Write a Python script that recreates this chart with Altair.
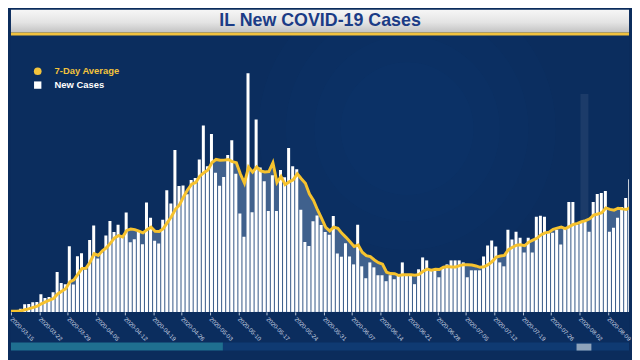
import altair as alt
import pandas as pd

# ---------------- data ----------------
first_day = "2020-03-08"
new_cases = [
    4, 4, 8, 6, 7, 14, 18,                                                    # Mar 8-14
    29, 12, 55, 128, 134, 163, 168, 296, 236, 250, 330, 673, 488, 465, 1105, 461, 937,  # Mar 15-31
    986, 715, 1209, 1453, 899, 1006, 1287, 1529, 1344, 1465,
    1293, 1672, 1173, 1222, 1346, 1140, 1842, 1585, 1197, 1151,
    1551, 2049, 1826, 2724, 2119, 2126, 1980, 2219, 2253, 2563,                 # Apr
    3137, 2450, 2994, 2341, 2122, 2270, 2641, 2887, 2325, 1656,
    1266, 4014, 1677, 3239, 2432, 2200, 1700, 2300, 1700, 2388,
    2268, 2758, 2450, 2400, 1717, 1178, 1111, 1527, 1622, 1462, 1343,          # May
    1300, 1614, 982, 929, 1156, 933, 800, 1467, 767, 567,
    833, 750, 617, 617, 517, 617, 550, 617, 833, 617,
    617, 467, 717, 917, 867, 717, 717, 583, 750, 800,                          # Jun
    867, 867, 867, 833, 583, 700, 700, 700, 933, 1117,
    1200, 1100, 833, 767, 1383, 1217, 1350, 1250, 1000, 1250,
    1000, 1600, 1617, 1600, 1333, 1333, 1383, 1133, 1417, 1850, 1850,          # Jul
    1467, 1517, 1517, 1350, 1850, 1983, 2000, 2033, 1350, 1417, 1583, 1767, 1917, 2233, 1717,  # Aug 1-15
]
tick_start = "2020-03-15"
tick_end = "2020-08-16"
title_text = "IL New COVID-19 Cases"
legend_labels = ["7-Day Average", "New Cases"]
legend_colors = ["#f3c33c", "#ffffff"]
legend_shapes = ["circle", "square"]

# ---------------- table ----------------
DAY = 86400000
EPOCH = pd.Timestamp("1970-01-01")
days = pd.date_range(first_day, periods=len(new_cases), freq="D")
ms = [int((d - EPOCH) // pd.Timedelta(milliseconds=1)) for d in days]
df = pd.DataFrame({
    "start": ms,
    "end": [m + int(DAY * 0.74) for m in ms],
    "mid": [m + DAY // 2 for m in ms],
    "cases": new_cases,
    "zero": [0] * len(ms),
})
tick_days = pd.date_range(tick_start, tick_end, freq="7D")
tick_ms = [int((d - EPOCH) // pd.Timedelta(milliseconds=1)) for d in tick_days]

W, H = 624, 305
px_per_day = 4.1
x0 = tick_ms[0]
x_domain = [x0, x0 + int(W / px_per_day * DAY)]
y_domain = [0, round(H / 0.06)]

xs = alt.Scale(type="utc", domain=x_domain)
ys = alt.Scale(domain=y_domain)

base = alt.Chart(df).transform_window(
    avg="mean(cases)", frame=[-6, 0]
)

one = pd.DataFrame({"k": [0]})

def box(color, x1, x2, y1, y2, opacity=1.0):
    return alt.Chart(one).mark_rect(color=color, opacity=opacity).encode(
        x=alt.value(x1), x2=alt.value(x2), y=alt.value(y1), y2=alt.value(y2))

def glow_disc(size, opacity):
    return alt.Chart(one).mark_point(shape="circle", filled=True, size=size, clip=True,
                                     color="#3b7fc4", opacity=opacity).encode(
        x=alt.value(400), y=alt.value(120))

bg = box("#0b2d5e", 0, 624, 0, 344)
glows = [glow_disc(s, 0.025) for s in (90000, 60000, 35000, 18000)]
strip_teal = box("#1f6f90", 0, 214, 336, 344)
strip_blue = box("#0f3a72", 214, 624, 336, 344)
strip_gray = box("#8ea3bb", 571, 586, 337, 344)
glow = box("#ffffff", 575, 583, 85, 305, 0.07)

title_bar = alt.Chart(one).mark_rect(
    color=alt.LinearGradient(
        gradient="linear", x1=0, y1=0, x2=0, y2=1,
        stops=[alt.GradientStop(color="#f6f6f6", offset=0),
               alt.GradientStop(color="#e4e4e4", offset=0.55),
               alt.GradientStop(color="#c2c2c2", offset=1)],
    )
).encode(x=alt.value(0), x2=alt.value(624), y=alt.value(0), y2=alt.value(23))
title_border = box("#f1c23e", 0, 624, 23, 26)

title = alt.Chart(one).mark_text(
    text=title_text, font="Liberation Sans Narrow, Liberation Sans, Arial, sans-serif",
    fontSize=18, fontWeight="bold", color="#1b3c86", align="center", baseline="middle",
).encode(x=alt.value(312), y=alt.value(11))

area = base.mark_area(color="#40618d", clip=True).encode(
    x=alt.X("mid:Q", scale=xs), y=alt.Y("avg:Q", scale=ys, axis=None))

bars = base.mark_rect(color="#ffffff", clip=True).encode(
    x=alt.X("start:Q", scale=xs, title=None,
            axis=alt.Axis(values=tick_ms, tickCount=60,
                          labelExpr="utcFormat(datum.value, '%Y-%m-%d')",
                          labelAngle=45, labelAlign="left", labelBaseline="middle",
                          labelFontSize=6, labelColor="#cfd8e6", labelPadding=3,
                          labelFont="Liberation Sans, Arial, sans-serif",
                          tickColor="#b8c4d6", tickSize=3, domain=False, grid=False,
                          labelOverlap=False, zindex=1)),
    x2="end:Q",
    y=alt.Y("cases:Q", scale=ys, axis=None),
    y2="zero:Q",
)

line = base.mark_line(color="#f6c22e", strokeWidth=3, clip=True).encode(
    x=alt.X("mid:Q", scale=xs), y=alt.Y("avg:Q", scale=ys, axis=None))

leg_font = "Liberation Sans, Arial, sans-serif"
leg_sym1 = alt.Chart(one).mark_point(shape=legend_shapes[0], filled=True, size=60,
                                     color=legend_colors[0], opacity=1).encode(
    x=alt.value(27), y=alt.value(62))
leg_sym2 = alt.Chart(one).mark_point(shape=legend_shapes[1], filled=True, size=55,
                                     color=legend_colors[1], opacity=1).encode(
    x=alt.value(27), y=alt.value(76))
leg_txt1 = alt.Chart(one).mark_text(text=legend_labels[0], font=leg_font, fontSize=9.5,
                                    fontWeight="bold", color=legend_colors[0],
                                    align="left", baseline="middle").encode(
    x=alt.value(44), y=alt.value(62))
leg_txt2 = alt.Chart(one).mark_text(text=legend_labels[1], font=leg_font, fontSize=9.5,
                                    fontWeight="bold", color=legend_colors[1],
                                    align="left", baseline="middle").encode(
    x=alt.value(44), y=alt.value(76))

chart = alt.layer(
    bg, *glows, strip_teal, strip_blue, strip_gray, glow, title_bar, title_border, title,
    area, bars, line, leg_sym1, leg_sym2, leg_txt1, leg_txt2,
).properties(
    width=W, height=H,
    padding={"left": 0, "right": 0, "top": 0, "bottom": 39},
    background="#0b2c5c",
).configure_view(strokeWidth=0)

chart.save("out.html", embed_options={"renderer": "svg", "actions": False})
